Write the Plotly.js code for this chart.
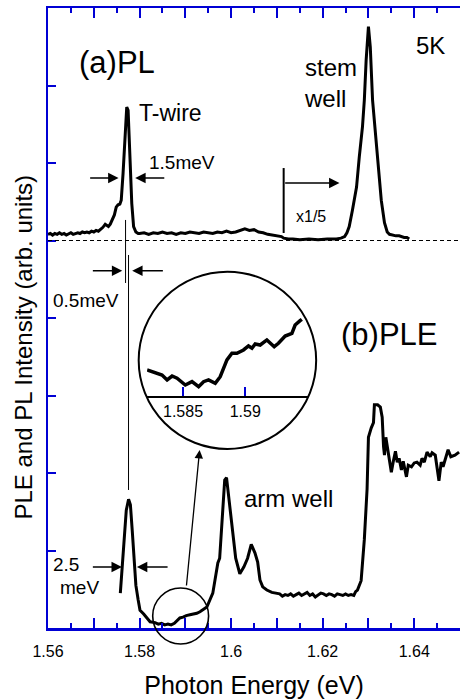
<!DOCTYPE html>
<html>
<head>
<meta charset="utf-8">
<script src="https://cdn.plot.ly/plotly-3.0.1.min.js"></script>
<style>html,body{margin:0;padding:0;background:#fff;}#chart{width:460px;height:700px;}</style>
</head>
<body>
<div id="chart"></div>
<script>
// ---- (a) PL spectrum ----
const plEnergy = [1.5600,1.5605,1.5610,1.5615,1.5620,1.5625,1.5630,1.5635,1.5640,1.5645,1.5650,1.5655,1.5660,1.5665,1.5670,1.5675,1.5680,1.5685,1.5690,1.5695,1.5700,1.5705,1.5710,1.5715,1.5720,1.5725,1.5728,1.5732,1.5736,1.5740,1.5745,1.5749,1.5753,1.5757,1.5760,1.5764,1.5768,1.5772,1.5775,1.5779,1.5783,1.5787,1.5792,1.5797,1.5800,1.5810,1.5820,1.5830,1.5840,1.5850,1.5860,1.5870,1.5880,1.5890,1.5900,1.5910,1.5920,1.5930,1.5940,1.5950,1.5960,1.5970,1.5980,1.5990,1.6000,1.6010,1.6020,1.6030,1.6040,1.6050,1.6060,1.6070,1.6080,1.6090,1.6100,1.6110,1.6115,1.6125,1.6135,1.6150,1.6170,1.6190,1.6210,1.6230,1.6240,1.6248,1.6253,1.6258,1.6265,1.6274,1.6280,1.6287,1.6291,1.6295,1.6300,1.6304,1.6309,1.6315,1.6322,1.6328,1.6335,1.6341,1.6346,1.6352,1.6360,1.6367,1.6372,1.6378,1.6384,1.6389];
const plIntensity = [5.08,5.09,5.07,5.09,5.08,5.10,5.08,5.09,5.07,5.09,5.10,5.08,5.09,5.10,5.09,5.11,5.10,5.11,5.10,5.12,5.11,5.13,5.12,5.14,5.17,5.21,5.20,5.18,5.21,5.26,5.33,5.43,5.46,5.47,5.52,5.87,6.40,6.72,6.68,6.08,5.48,5.18,5.11,5.09,5.09,5.10,5.08,5.10,5.09,5.11,5.09,5.10,5.08,5.10,5.09,5.11,5.10,5.09,5.11,5.10,5.09,5.11,5.10,5.12,5.10,5.11,5.13,5.15,5.13,5.14,5.11,5.10,5.08,5.07,5.06,5.05,5.03,5.02,5.02,5.01,5.02,5.01,5.02,5.02,5.03,5.05,5.10,5.18,5.39,5.69,6.08,6.47,6.81,7.33,7.76,7.50,6.81,6.39,5.91,5.52,5.23,5.11,5.08,5.07,5.06,5.06,5.05,5.04,5.04,5.02];

// ---- (b) PLE spectrum ----
const pleEnergy = [1.5758,1.5762,1.5767,1.5771,1.5776,1.5780,1.5784,1.5788,1.5792,1.5797,1.5801,1.5809,1.5817,1.5823,1.5834,1.5841,1.5848,1.5855,1.5862,1.5869,1.5876,1.5882,1.5888,1.5895,1.5902,1.5910,1.5918,1.5925,1.5932,1.5940,1.5947,1.5960,1.5971,1.5975,1.5980,1.5986,1.5990,1.5997,1.6004,1.6010,1.6019,1.6028,1.6036,1.6044,1.6052,1.6058,1.6063,1.6069,1.6078,1.6089,1.6106,1.6112,1.6118,1.6124,1.6130,1.6136,1.6142,1.6148,1.6154,1.6160,1.6166,1.6172,1.6178,1.6184,1.6190,1.6196,1.6202,1.6208,1.6214,1.6220,1.6226,1.6232,1.6238,1.6244,1.6250,1.6256,1.6262,1.6268,1.6272,1.6276,1.6284,1.6291,1.6297,1.6300,1.6306,1.6311,1.6313,1.6320,1.6326,1.6330,1.6333,1.6335,1.6338,1.6341,1.6346,1.6350,1.6354,1.6359,1.6363,1.6367,1.6372,1.6376,1.6383,1.6387,1.6394,1.6400,1.6406,1.6413,1.6417,1.6422,1.6428,1.6435,1.6439,1.6446,1.6454,1.6459,1.6463,1.6470,1.6474,1.6480,1.6489,1.6498];
const pleIntensity = [0.45,0.75,1.14,1.52,1.66,1.59,1.26,0.88,0.55,0.36,0.23,0.18,0.12,0.08,0.07,0.05,0.06,0.04,0.05,0.04,0.06,0.09,0.13,0.14,0.16,0.17,0.18,0.19,0.21,0.24,0.27,0.45,0.84,0.90,1.40,1.91,1.94,1.56,1.14,0.90,0.70,0.79,0.90,1.08,0.97,0.85,0.62,0.53,0.49,0.46,0.44,0.41,0.43,0.42,0.44,0.41,0.43,0.45,0.42,0.44,0.46,0.42,0.44,0.40,0.43,0.45,0.44,0.42,0.44,0.43,0.41,0.44,0.43,0.42,0.44,0.42,0.43,0.42,0.47,0.49,0.61,1.14,1.79,2.46,2.58,2.65,2.88,2.88,2.85,2.72,2.34,2.23,2.46,2.34,2.17,2.01,2.14,2.28,2.14,2.19,2.04,2.15,1.95,2.10,2.08,2.13,2.14,2.10,2.19,2.14,2.27,2.21,2.26,2.23,1.90,2.14,2.08,2.23,2.30,2.21,2.23,2.27];

// ---- magnified inset of the PLE edge ----
const insetEnergy = [1.58211,1.58278,1.58331,1.58372,1.58412,1.58452,1.58518,1.58572,1.58625,1.58665,1.58705,1.58759,1.58799,1.58853,1.58893,1.58933,1.58986,1.59026,1.59054,1.59080,1.59120,1.59174,1.59233,1.59267,1.59321,1.59375,1.59401,1.59441,1.59455];
const insetIntensity = [0.332,0.289,0.267,0.203,0.254,0.225,0.138,0.181,0.116,0.181,0.203,0.160,0.245,0.461,0.547,0.547,0.590,0.641,0.612,0.667,0.654,0.719,0.632,0.676,0.770,0.805,0.912,0.968,0.986];

// ---- ticks ----
const xTickVals = [1.56,1.57,1.58,1.59,1.60,1.61,1.62,1.63,1.64];
const xTickText = ['1.56','','1.58','','1.6','','1.62','','1.64'];
const insetTickVals = [1.585,1.59];
const insetTickText = ['1.585','1.59'];
const yTickVals = [0,1,2,3,4,5,6,7,8];

const blue = '#0000d4';
const FONT = 'Liberation Sans, Arial, Helvetica, sans-serif';

const traces = [
  {x: plEnergy, y: plIntensity, type: 'scatter', mode: 'lines', line: {color: '#000', width: 3}, hoverinfo: 'skip'},
  {x: pleEnergy, y: pleIntensity, type: 'scatter', mode: 'lines', line: {color: '#000', width: 3}, hoverinfo: 'skip'},
  {x: insetEnergy, y: insetIntensity, xaxis: 'x2', yaxis: 'y2', type: 'scatter', mode: 'lines', line: {color: '#000', width: 3.5}, hoverinfo: 'skip'}
];

function txt(text, x, y, size, xanchor, extra) {
  return Object.assign({text: text, x: x, y: y, xref: 'x', yref: 'y', showarrow: false,
    xanchor: xanchor || 'left', yanchor: 'middle', font: {family: FONT, size: size, color: '#000'}}, extra || {});
}
function arrow(hx, hy, tx, ty) {
  return {text: '', x: hx, y: hy, ax: tx, ay: ty, xref: 'x', yref: 'y', axref: 'x', ayref: 'y',
    showarrow: true, arrowhead: 2, arrowsize: 1.3, arrowwidth: 1.6, arrowcolor: '#000', standoff: 0, startstandoff: 0};
}

const annotations = [
  txt('(a)PL', 1.5750, 7.30, 31, 'center'),
  txt('T-wire', 1.57948, 6.645, 23),
  txt('1.5meV', 1.58166, 6.01, 19),
  txt('0.5meV', 1.56076, 4.232, 19),
  txt('stem<br>well', 1.61550, 7.03, 24, 'left', {align: 'left'}),
  txt('5K', 1.64000, 7.51, 24),
  txt('x1/5', 1.61366, 5.316, 16),
  txt('(b)PLE', 1.62367, 3.781, 31),
  txt('arm well', 1.60227, 1.677, 24),
  txt('2.5', 1.56076, 0.813, 19),
  txt('meV', 1.56229, 0.529, 19),
  arrow(1.57622, 4.61, 1.56947, 4.61),
  arrow(1.57839, 4.61, 1.58542, 4.61),
  arrow(1.57541, 5.806, 1.56888, 5.806),
  arrow(1.57905, 5.806, 1.58573, 5.806),
  arrow(1.57615, 0.787, 1.56947, 0.787),
  arrow(1.57942, 0.787, 1.58645, 0.787),
  arrow(1.62367, 5.742, 1.61148, 5.742),
  {text: '', x: 0.368, y: 0.2871, xref: 'paper', yref: 'paper', ax: -13.3, ay: 137,
   showarrow: true, arrowhead: 2, arrowsize: 1.3, arrowwidth: 1.3, arrowcolor: '#000', standoff: 0},
  {text: 'PLE and PL Intensity (arb. units)', x: -0.0606, y: 0.4524, xref: 'paper', yref: 'paper',
   textangle: -90, showarrow: false, xanchor: 'center', yanchor: 'middle',
   font: {family: FONT, size: 24, color: '#000'}}
];

const shapes = [
  {type: 'line', xref: 'paper', yref: 'y', x0: 0, x1: 1, y0: 5, y1: 5, line: {color: '#000', width: 1, dash: '4px,3px'}},
  {type: 'line', xref: 'x', yref: 'y', x0: 1.57694, x1: 1.57694, y0: 5.265, y1: 4.452, line: {color: '#000', width: 1}},
  {type: 'line', xref: 'x', yref: 'y', x0: 1.57759, x1: 1.57759, y0: 4.813, y1: 1.781, line: {color: '#000', width: 1}},
  {type: 'line', xref: 'x', yref: 'y', x0: 1.61148, x1: 1.61148, y0: 5.935, y1: 5.097, line: {color: '#000', width: 2}},
  {type: 'circle', xref: 'paper', yref: 'paper', x0: 0.2541, x1: 0.3898, y0: -0.0258, y1: 0.0645, line: {color: '#000', width: 1.6}},
  {type: 'circle', xref: 'paper', yref: 'paper', x0: 0.2201, x1: 0.6509, y0: 0.2887, y1: 0.5747, line: {color: '#000', width: 2}}
];

const layout = {
  width: 460, height: 700,
  margin: {l: 47.5, r: 0, t: 8, b: 72},
  paper_bgcolor: '#fff', plot_bgcolor: '#fff',
  showlegend: false,
  font: {family: FONT, color: '#000'},
  xaxis: {
    range: [1.56, 1.65], domain: [0, 1], anchor: 'y',
    showline: true, linecolor: blue, linewidth: 2.5, mirror: 'ticks',
    showgrid: false, zeroline: false,
    tickmode: 'array', tickvals: xTickVals, ticktext: xTickText,
    ticks: 'inside', ticklen: 10, tickwidth: 2, tickcolor: blue,
    minor: {dtick: 0.005, tick0: 1.56, ticks: 'inside', ticklen: 5, tickwidth: 2, tickcolor: blue, showgrid: false},
    tickfont: {family: FONT, size: 16, color: '#000'},
    ticklabelstandoff: 7,
    title: {text: 'Photon Energy (eV)', font: {family: FONT, size: 25, color: '#000'}, standoff: 18}
  },
  yaxis: {
    range: [0, 8], domain: [0, 1], anchor: 'x',
    showline: true, linecolor: blue, linewidth: 2.5, mirror: false,
    showgrid: false, zeroline: false,
    tickmode: 'array', tickvals: yTickVals, showticklabels: false,
    ticks: 'inside', ticklen: 8, tickwidth: 2, tickcolor: blue
  },
  xaxis2: {
    range: [1.58211, 1.59506], domain: [0.2405, 0.6315], anchor: 'y2',
    showline: true, linecolor: '#000', linewidth: 2,
    showgrid: false, zeroline: false,
    tickmode: 'array', tickvals: insetTickVals, ticktext: insetTickText,
    ticks: 'inside', ticklen: 9, tickwidth: 2, tickcolor: blue,
    tickfont: {family: FONT, size: 16, color: '#000'},
    ticklabelstandoff: 0
  },
  yaxis2: {
    range: [0, 1.6], domain: [0.3747, 0.5747], anchor: 'x2',
    visible: false, showgrid: false, zeroline: false
  },
  annotations: annotations,
  shapes: shapes
};

Plotly.newPlot('chart', traces, layout, {staticPlot: true, displayModeBar: false});
</script>
</body>
</html>
